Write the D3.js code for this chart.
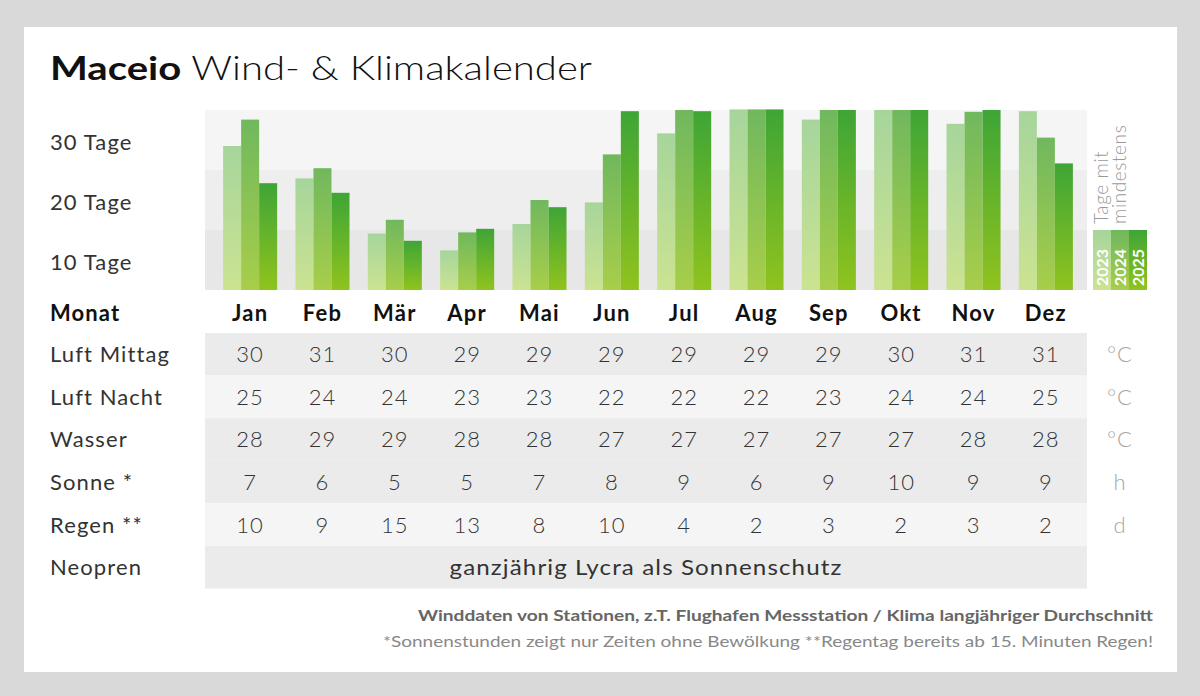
<!DOCTYPE html>
<html>
<head>
<meta charset="utf-8">
<script src="https://cdn.jsdelivr.net/npm/d3@7"></script>
<style>
  body { margin: 0; background: #d9d9d9; }
  svg { display: block; font-family: Lato, "Open Sans", sans-serif; }
  .row-label { font-size: 22px; fill: #333; font-weight: 400; letter-spacing: 1.1px; }
  .month-label { font-size: 22px; fill: #111; font-weight: 700; text-anchor: middle; letter-spacing: 1.2px; }
  .cell { font-size: 22px; fill: #333; font-weight: 300; text-anchor: middle; letter-spacing: 1px; }
  .unit { font-size: 22px; fill: #a6a6a6; font-weight: 300; text-anchor: middle; letter-spacing: 1px; }
</style>
</head>
<body>
<div id="chart-holder"></div>
<script>
// chart data
var months = ["Jan", "Feb", "Mär", "Apr", "Mai", "Jun", "Jul", "Aug", "Sep", "Okt", "Nov", "Dez"];
var years = ["2023", "2024", "2025"];
var windDays2023 = [24, 18.6, 9.4, 6.6, 11, 14.6, 26.1, 30.1, 28.4, 30, 27.7, 29.8];
var windDays2024 = [28.4, 20.3, 11.7, 9.6, 15, 22.6, 30, 30.1, 30, 30, 29.7, 25.4];
var windDays2025 = [17.8, 16.2, 8.2, 10.2, 13.8, 29.8, 29.8, 30.1, 30, 30, 30, 21.1];
var dayTicks = ["30 Tage", "20 Tage", "10 Tage"];

var airDay = [30, 31, 30, 29, 29, 29, 29, 29, 29, 30, 31, 31];
var airNight = [25, 24, 24, 23, 23, 22, 22, 22, 23, 24, 24, 25];
var water = [28, 29, 29, 28, 28, 27, 27, 27, 27, 27, 28, 28];
var sun = [7, 6, 5, 5, 7, 8, 9, 6, 9, 10, 9, 9];
var rain = [10, 9, 15, 13, 8, 10, 4, 2, 3, 2, 3, 2];
var neoprenText = "ganzjährig Lycra als Sonnenschutz";

// table rows: label, values, unit
var tableRows = [
  { label: "Luft Mittag", values: airDay, unit: "°C", fill: "#ebebeb" },
  { label: "Luft Nacht", values: airNight, unit: "°C", fill: "#f5f5f5" },
  { label: "Wasser", values: water, unit: "°C", fill: "#ebebeb" },
  { label: "Sonne *", values: sun, unit: "h", fill: "#ebebeb" },
  { label: "Regen **", values: rain, unit: "d", fill: "#f5f5f5" },
  { label: "Neopren", values: null, unit: "", fill: "#ebebeb" }
];

var gradColors = {
  "2023": ["#a6d59b", "#cbe392"],
  "2024": ["#70b85e", "#a8ce4a"],
  "2025": ["#3ea536", "#90c31e"]
};

var svg = d3.select("#chart-holder")
  .append("svg")
  .attr('width', 1200)
  .attr('height', 696);

// background + card
svg.append("rect")
  .attr('width', 1200).attr('height', 696)
  .attr('fill', '#d9d9d9');
svg.append("rect")
  .attr('x', 24).attr('y', 27)
  .attr('width', 1153).attr('height', 645)
  .attr('fill', '#ffffff');

// gradients, one per year
var defs = svg.append("defs");
years.forEach(function(yr) {
  var g = defs.append("linearGradient")
    .attr('id', 'grad' + yr)
    .attr('x1', 0).attr('y1', 0).attr('x2', 0).attr('y2', 1);
  g.append("stop").attr('offset', '0%').attr('stop-color', gradColors[yr][0]);
  g.append("stop").attr('offset', '100%').attr('stop-color', gradColors[yr][1]);
});

// title (stretched a bit, the original font is wider)
var title = svg.append("text")
  .attr('x', 50).attr('y', 80)
  .attr('textLength', 542)
  .attr('lengthAdjust', 'spacingAndGlyphs')
  .style('font-size', '33px')
  .style('fill', '#111');
title.append("tspan").style('font-weight', 700).text("Maceio");
title.append("tspan").style('font-weight', 300).text(" Wind- & Klimakalender");

// scales
var plotLeft = 205, plotRight = 1087;
var x = d3.scaleBand()
  .domain(months)
  .range([214, 1082])
  .paddingInner(0.253)
  .paddingOuter(0.126);
var xYear = d3.scaleBand()
  .domain(years)
  .range([0, x.bandwidth()]);
var y = d3.scaleLinear()
  .domain([0, 30])
  .range([290, 110]);

// grey bands behind bars
var bands = [[20, 30, '#f5f5f5'], [10, 20, '#eeeeee'], [0, 10, '#e7e7e7']];
svg.selectAll("rect.band")
  .data(bands)
  .enter()
  .append("rect")
  .attr('class', 'band')
  .attr('x', plotLeft)
  .attr('width', plotRight - plotLeft)
  .attr('y', function(d) { return y(d[1]); })
  .attr('height', function(d) { return y(d[0]) - y(d[1]); })
  .attr('fill', function(d) { return d[2]; });

// tick labels, centred in each band
svg.selectAll("text.tick-label")
  .data(dayTicks)
  .enter()
  .append("text")
  .attr('class', 'row-label')
  .attr('x', 50)
  .attr('y', function(d, i) { return y(25 - i * 10) + 10; })
  .text(function(d) { return d; });

// bars
var series = [windDays2023, windDays2024, windDays2025];
var barData = [];
months.forEach(function(m, i) {
  years.forEach(function(yr, j) {
    barData.push({ month: m, year: yr, value: series[j][i] });
  });
});
svg.selectAll("rect.bar")
  .data(barData)
  .enter()
  .append("rect")
  .attr('class', 'bar')
  .attr('x', function(d) { return x(d.month) + xYear(d.year); })
  .attr('width', xYear.bandwidth())
  .attr('y', function(d) { return y(Math.min(d.value, 30.1)); })
  .attr('height', function(d) { return y(0) - y(Math.min(d.value, 30.1)); })
  .attr('fill', function(d) { return 'url(#grad' + d.year + ')'; });

// legend
var legX = 1093, legW = 18;
var legend = svg.append("g");
years.forEach(function(yr, j) {
  legend.append("rect")
    .attr('x', legX + j * legW).attr('y', 230)
    .attr('width', legW).attr('height', 60)
    .attr('fill', 'url(#grad' + yr + ')');
  legend.append("text")
    .attr('transform', 'translate(' + (legX + j * legW + legW / 2 + 6) + ',286) rotate(-90)')
    .style('font-size', '16px')
    .style('font-weight', 700)
    .style('fill', '#ffffff')
    .text(yr);
});
["Tage mit", "mindestens"].forEach(function(t, i) {
  legend.append("text")
    .attr('transform', 'translate(' + (1108 + i * 18) + ',224) rotate(-90)')
    .style('font-size', '19px')
    .style('font-weight', 300)
    .style('letter-spacing', '0.6px')
    .style('fill', '#999')
    .text(t);
});

// month header
svg.append("text")
  .attr('class', 'row-label')
  .attr('x', 50).attr('y', 321)
  .style('font-weight', 700)
  .style('fill', '#111')
  .text("Monat");
svg.selectAll("text.month-label")
  .data(months)
  .enter()
  .append("text")
  .attr('class', 'month-label')
  .attr('x', function(d) { return x(d) + x.bandwidth() / 2; })
  .attr('y', 321)
  .text(function(d) { return d; });

// table
var rowTop = 333, rowH = 42.6;
var rows = svg.selectAll("g.row")
  .data(tableRows)
  .enter()
  .append("g")
  .attr('class', 'row')
  .attr('transform', function(d, i) { return 'translate(0,' + (rowTop + i * rowH) + ')'; });

rows.append("rect")
  .attr('x', plotLeft)
  .attr('width', plotRight - plotLeft)
  .attr('height', rowH)
  .attr('fill', function(d) { return d.fill; });

rows.append("text")
  .attr('class', 'row-label')
  .attr('x', 50)
  .attr('y', rowH / 2 + 8)
  .text(function(d) { return d.label; });

rows.append("text")
  .attr('class', 'unit')
  .attr('x', 1120)
  .attr('y', rowH / 2 + 8)
  .text(function(d) { return d.unit; });

rows.filter(function(d) { return d.values; })
  .selectAll("text.cell")
  .data(function(d) { return d.values; })
  .enter()
  .append("text")
  .attr('class', 'cell')
  .attr('x', function(d, i) { return x(months[i]) + x.bandwidth() / 2; })
  .attr('y', rowH / 2 + 8)
  .text(function(d) { return d; });

rows.filter(function(d) { return !d.values; })
  .append("text")
  .attr('class', 'cell')
  .attr('x', (plotLeft + plotRight) / 2)
  .attr('y', rowH / 2 + 8)
  .attr('textLength', 393)
  .attr('lengthAdjust', 'spacingAndGlyphs')
  .style('font-weight', 400)
  .text(neoprenText);

// footer notes
svg.append("text")
  .attr('x', 1153).attr('y', 621)
  .attr('text-anchor', 'end')
  .attr('textLength', 735)
  .attr('lengthAdjust', 'spacingAndGlyphs')
  .style('font-size', '16px')
  .style('font-weight', 700)
  .style('fill', '#666')
  .text("Winddaten von Stationen, z.T. Flughafen Messstation / Klima langjähriger Durchschnitt");
svg.append("text")
  .attr('x', 1153).attr('y', 647)
  .attr('text-anchor', 'end')
  .attr('textLength', 770)
  .attr('lengthAdjust', 'spacingAndGlyphs')
  .style('font-size', '16px')
  .style('font-weight', 400)
  .style('fill', '#888')
  .text("*Sonnenstunden zeigt nur Zeiten ohne Bewölkung  **Regentag bereits ab 15. Minuten Regen!");
</script>
</body>
</html>
